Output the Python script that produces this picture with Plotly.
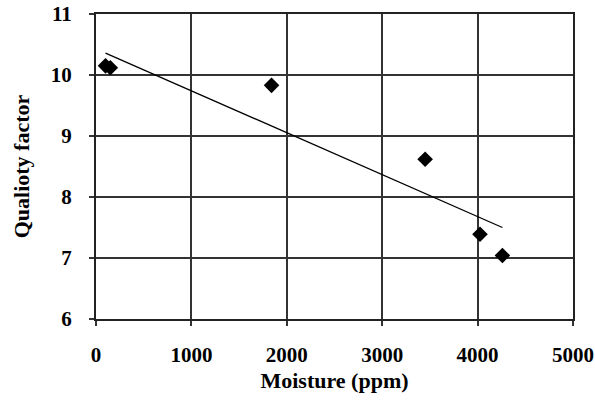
import plotly.graph_objects as go

moisture = [100, 150, 1840, 3450, 4025, 4260]
quality = [10.15, 10.12, 9.83, 8.62, 7.39, 7.04]
trend_x = [100, 4260]
trend_y = [10.36, 7.50]
x_ticks = [0, 1000, 2000, 3000, 4000, 5000]
y_ticks = [6, 7, 8, 9, 10, 11]

fam = "Liberation Serif, Times New Roman, serif"

fig = go.Figure()
fig.add_trace(go.Scatter(x=trend_x, y=trend_y, mode="lines",
                         line=dict(color="black", width=1.3), showlegend=False))
fig.add_trace(go.Scatter(x=moisture, y=quality, mode="markers",
                         marker=dict(symbol="diamond", size=12, color="black"),
                         showlegend=False))

axis_common = dict(showgrid=True, gridcolor="#333333", gridwidth=1.5,
                   showline=True, linecolor="#222222", linewidth=2, mirror=True,
                   ticks="outside", ticklen=5, tickcolor="#333333", tickwidth=1.5,
                   zeroline=False, automargin=False,
                   tickfont=dict(size=21, family=fam, color="black", weight="bold"))

fig.update_xaxes(range=[0, 5000], tickvals=x_ticks, ticktext=[str(v) for v in x_ticks],
                 title=dict(text="Moisture (ppm)", font=dict(size=22, family=fam, color="black", weight="bold"), standoff=6),
                 ticklabelstandoff=11, **axis_common)
fig.update_yaxes(range=[6, 11], tickvals=y_ticks, ticktext=[str(v) for v in y_ticks],
                 title=dict(text="Qualioty factor", font=dict(size=22, family=fam, color="black", weight="bold"), standoff=15),
                 ticklabelstandoff=13, **axis_common)

fig.update_layout(width=595, height=411, margin=dict(l=96, r=22, t=14, b=92),
                  plot_bgcolor="white", paper_bgcolor="white",
                  font=dict(family=fam, color="black"))
fig.write_html("out.html", config={"displayModeBar": False},
               post_script="document.body.style.margin='0';")
